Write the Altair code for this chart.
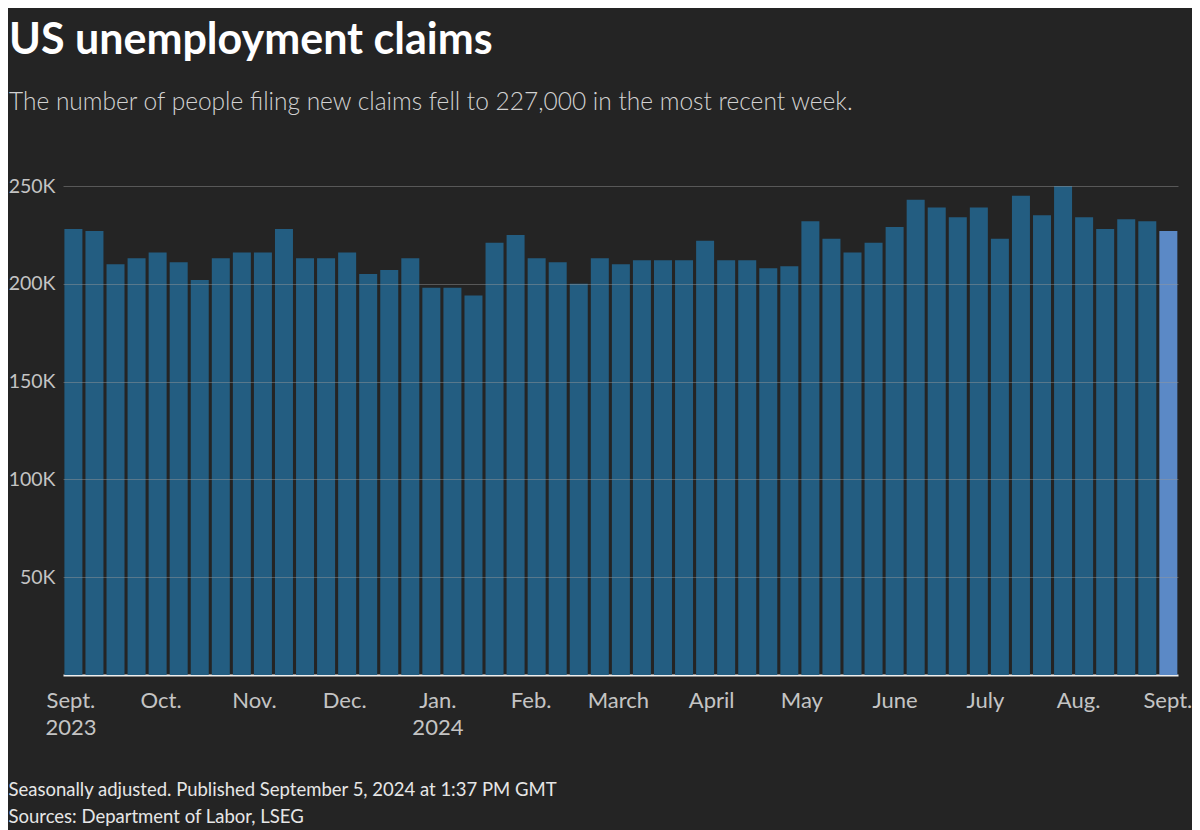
import altair as alt
import pandas as pd

# Week-ending dates (Saturdays)
week_ending = [
    "2023-09-02", "2023-09-09", "2023-09-16", "2023-09-23", "2023-09-30",
    "2023-10-07", "2023-10-14", "2023-10-21", "2023-10-28",
    "2023-11-04", "2023-11-11", "2023-11-18", "2023-11-25",
    "2023-12-02", "2023-12-09", "2023-12-16", "2023-12-23", "2023-12-30",
    "2024-01-06", "2024-01-13", "2024-01-20", "2024-01-27",
    "2024-02-03", "2024-02-10", "2024-02-17", "2024-02-24",
    "2024-03-02", "2024-03-09", "2024-03-16", "2024-03-23", "2024-03-30",
    "2024-04-06", "2024-04-13", "2024-04-20", "2024-04-27",
    "2024-05-04", "2024-05-11", "2024-05-18", "2024-05-25",
    "2024-06-01", "2024-06-08", "2024-06-15", "2024-06-22", "2024-06-29",
    "2024-07-06", "2024-07-13", "2024-07-20", "2024-07-27",
    "2024-08-03", "2024-08-10", "2024-08-17", "2024-08-24", "2024-08-31",
]

# Initial jobless claims (seasonally adjusted)
claims = [
    228000, 227000, 210000, 213000, 216000,
    211000, 202000, 213000, 216000,
    216000, 228000, 213000, 213000,
    216000, 205000, 207000, 213000, 198000,
    198000, 194000, 221000, 225000,
    213000, 211000, 200000, 213000,
    210000, 212000, 212000, 212000, 222000,
    212000, 212000, 208000, 209000,
    232000, 223000, 216000, 221000,
    229000, 243000, 239000, 234000, 239000,
    223000, 245000, 235000, 250000,
    234000, 228000, 233000, 232000, 227000,
]

# X-axis tick labels at month starts
tick_dates = [
    "2023-09-01", "2023-10-01", "2023-11-01", "2023-12-01", "2024-01-01",
    "2024-02-01", "2024-03-01", "2024-04-01", "2024-05-01", "2024-06-01",
    "2024-07-01", "2024-08-01", "2024-09-01",
]
tick_months = ["Sept.", "Oct.", "Nov.", "Dec.", "Jan.", "Feb.", "March",
               "April", "May", "June", "July", "Aug.", "Sept."]
tick_years = ["2023", "", "", "", "2024", "", "", "", "", "", "", "", ""]

y_ticks = [50000, 100000, 150000, 200000, 250000]

df = pd.DataFrame({
    "week": week_ending,
    "claims": claims,
    "latest": ["no"] * (len(claims) - 1) + ["yes"],
})

# label expression built from the tick lists
expr = ""
for d, m, yr in zip(tick_dates, tick_months, tick_years):
    lbl = f"['{m}', '{yr}']" if yr else f"'{m}'"
    expr += f"utcFormat(datum.value, '%Y-%m') == '{d[:7]}' ? {lbl} : "
expr += "''"

last_tick_test = f"utcFormat(datum.value, '%Y-%m') == '{tick_dates[-1][:7]}'"

FONT = "Lato"

bars = alt.Chart(df).mark_bar(width=18).encode(
    x=alt.X(
        "week:T",
        scale=alt.Scale(type="utc", padding=0,
                        domain=["2023-08-29T13:00:00Z", "2024-09-03T05:00:00Z"]),
        axis=alt.Axis(
            values=tick_dates,
            labelExpr=expr,
            labelOverlap=False,
            labelFlush=False,
            labelBound=False,
            ticks=False,
            grid=False,
            domain=True,
            domainColor="#eeeeee",
            domainWidth=2,
            labelFont=FONT,
            labelFontSize=22,
            labelColor="#c4c4c4",
            labelPadding=15,
            labelLineHeight=27,
            labelBaseline="top",
            labelOffset={"condition": {"test": last_tick_test, "value": -4}, "value": 0},
            title=["Seasonally adjusted. Published September 5, 2024 at 1:37 PM GMT",
                   "Sources: Department of Labor, LSEG"],
            titleX=-55,
            titleY=120,
            titleAnchor="start",
            titleAlign="left",
            titleBaseline="alphabetic",
            titleFont=FONT,
            titleFontSize=18.5,
            titleFontWeight="normal",
            titleColor="#e6e6e6",
            titleLineHeight=27,
        ),
    ),
    y=alt.Y(
        "claims:Q",
        scale=alt.Scale(domain=[0, 250000], nice=False),
        axis=alt.Axis(
            values=y_ticks,
            labelExpr="datum.value / 1000 + 'K'",
            title=None,
            domain=False,
            ticks=False,
            grid=True,
            gridColor="#9a9a9a",
            gridOpacity=0.45,
            gridWidth=1,
            labelFont=FONT,
            labelFontSize=19.5,
            labelColor="#c4c4c4",
            labelPadding=8,
            zindex=1,
        ),
    ),
    color=alt.Color(
        "latest:N",
        scale=alt.Scale(domain=["no", "yes"], range=["#235d81", "#5b89c6"]),
        legend=None,
    ),
)

chart = bars.properties(
    width=1115,
    height=489,
    autosize=alt.AutoSizeParams(type="none"),
    padding={"left": 55, "top": 178, "right": 14, "bottom": 155},
    background="#242424",
    title=alt.TitleParams(
        text="US unemployment claims",
        subtitle="The number of people filing new claims fell to 227,000 in the most recent week.",
        anchor="start",
        frame="group",
        dx=-54,
        font=FONT,
        fontSize=43,
        fontWeight="bold",
        color="#ffffff",
        subtitleFont=FONT,
        subtitleFontSize=24.5,
        subtitleFontWeight=300,
        subtitleColor="#d2d2d2",
        subtitlePadding=28,
        offset=62,
    ),
).configure_view(stroke=None)

chart.save("out.html", embed_options={"renderer": "svg", "actions": False})
